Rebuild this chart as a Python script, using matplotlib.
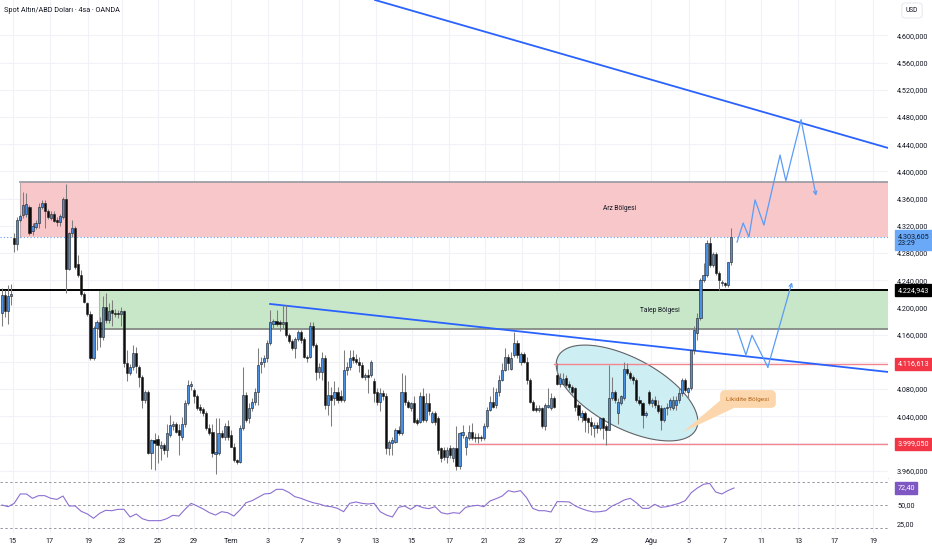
import matplotlib
matplotlib.use('Agg')

import matplotlib.pyplot as plt
import matplotlib.transforms as mtransforms
from matplotlib.patches import Polygon, Rectangle
import numpy as np

plt.rcParams['font.family'] = ['Roboto', 'DejaVu Sans']

# 4h candles, oldest first
opens = [4191, 4218, 4195, 4216, 4302, 4293, 4328, 4336, 4338, 4347,
         4312, 4318, 4324, 4348, 4354, 4341, 4332, 4338, 4329, 4326,
         4333, 4360, 4257, 4309, 4316, 4264, 4247, 4220, 4206, 4190,
         4125, 4169, 4179, 4157, 4201, 4181, 4196, 4192, 4192, 4190,
         4194, 4118, 4104, 4113, 4133, 4112, 4097, 4064, 4076, 3986,
         4005, 4007, 3993, 3998, 3990, 4012, 4025, 4029, 4019, 4010,
         4029, 4059, 4084, 4078, 4069, 4053, 4050, 4044, 4022, 4017,
         3985, 3986, 4015, 4010, 4025, 4012, 3995, 3975, 3973, 4022,
         4071, 4037, 4052, 4061, 4076, 4117, 4120, 4125, 4147, 4176,
         4180, 4178, 4175, 4179, 4159, 4150, 4140, 4154, 4164, 4154,
         4127, 4127, 4172, 4145, 4105, 4105, 4125, 4056, 4071, 4066,
         4076, 4069, 4064, 4108, 4113, 4127, 4124, 4120, 4115, 4098,
         4101, 4100, 4091, 4076, 4061, 4074, 4069, 3993, 4000, 4002,
         4020, 4015, 4076, 4061, 4052, 4059, 4034, 4032, 4069, 4034,
         4059, 4032, 4044, 4037, 3993, 3990, 3980, 3993, 3978, 3993,
         3966, 4012, 3995, 4008, 4017, 4010, 4010, 4010, 4008, 4025,
         4049, 4061, 4056, 4076, 4093, 4108, 4127, 4110, 4130, 4147,
         4120, 4132, 4120, 4093, 4061, 4052, 4049, 4052, 4025, 4054,
         4052, 4066, 4101, 4088, 4088, 4096, 4088, 4083, 4081, 4056,
         4039, 4044, 4037, 4032, 4022, 4027, 4022, 4037, 4025, 4020,
         4066, 4076, 4044, 4059, 4066, 4110, 4103, 4098, 4093, 4064,
         4059, 4042, 4076, 4059, 4064, 4056, 4052, 4034, 4052, 4054,
         4052, 4056, 4064, 4074, 4093, 4076, 4081, 4137, 4162, 4184,
         4240, 4248, 4294, 4262, 4279, 4250, 4236, 4236, 4233, 4266]
highs = [4228, 4226, 4233, 4234, 4309, 4333, 4338, 4370, 4368, 4350,
         4324, 4328, 4353, 4358, 4358, 4345, 4342, 4342, 4333, 4338,
         4362, 4382, 4311, 4328, 4319, 4277, 4255, 4223, 4208, 4194,
         4172, 4181, 4186, 4216, 4221, 4206, 4211, 4198, 4196, 4201,
         4196, 4137, 4116, 4145, 4142, 4115, 4101, 4079, 4079, 4007,
         4015, 4012, 4003, 4001, 4029, 4042, 4033, 4032, 4029, 4039,
         4064, 4093, 4092, 4081, 4073, 4058, 4054, 4047, 4028, 4029,
         4037, 4037, 4020, 4030, 4035, 4020, 4000, 3977, 4027, 4113,
         4076, 4059, 4066, 4081, 4140, 4127, 4130, 4152, 4196, 4183,
         4196, 4182, 4203, 4203, 4162, 4153, 4157, 4166, 4167, 4157,
         4130, 4179, 4179, 4147, 4118, 4135, 4130, 4091, 4083, 4091,
         4083, 4078, 4137, 4120, 4137, 4137, 4132, 4127, 4120, 4103,
         4110, 4122, 4096, 4081, 4081, 4078, 4074, 4005, 4010, 4022,
         4025, 4103, 4100, 4064, 4061, 4069, 4037, 4076, 4081, 4074,
         4074, 4047, 4047, 4040, 3995, 3995, 3995, 3998, 3995, 4025,
         4017, 4027, 4012, 4027, 4030, 4015, 4015, 4012, 4030, 4054,
         4069, 4083, 4081, 4101, 4118, 4140, 4132, 4135, 4164, 4152,
         4135, 4135, 4127, 4096, 4064, 4056, 4056, 4054, 4059, 4081,
         4074, 4069, 4118, 4103, 4103, 4101, 4091, 4086, 4083, 4059,
         4049, 4047, 4039, 4039, 4032, 4032, 4039, 4039, 4029, 4115,
         4098, 4078, 4066, 4071, 4120, 4118, 4106, 4101, 4096, 4069,
         4061, 4047, 4078, 4066, 4069, 4064, 4056, 4054, 4059, 4066,
         4069, 4069, 4081, 4096, 4096, 4083, 4137, 4172, 4191, 4243,
         4265, 4299, 4304, 4282, 4282, 4253, 4240, 4238, 4267, 4316]
lows = [4172, 4186, 4176, 4203, 4282, 4284, 4325, 4331, 4333, 4306,
        4306, 4315, 4316, 4344, 4316, 4330, 4328, 4325, 4320, 4320,
        4330, 4221, 4255, 4304, 4257, 4245, 4216, 4206, 4188, 4122,
        4122, 4137, 4142, 4152, 4177, 4177, 4172, 4186, 4185, 4172,
        4113, 4091, 4100, 4108, 4104, 4083, 4052, 4059, 3985, 3963,
        3961, 3971, 3975, 3985, 3980, 4010, 4020, 4015, 3983, 4005,
        4024, 4057, 4078, 4059, 4049, 4045, 4040, 4020, 4012, 3980,
        3955, 3983, 4008, 4005, 4005, 3995, 3973, 3970, 3971, 4020,
        4032, 4030, 4047, 4056, 4056, 4103, 4113, 4120, 4145, 4170,
        4172, 4165, 4170, 4157, 4148, 4138, 4125, 4150, 4147, 4125,
        4120, 4125, 4142, 4093, 4096, 4093, 4050, 4042, 4025, 4056,
        4059, 4061, 4061, 4100, 4108, 4118, 4116, 4105, 4096, 4093,
        4074, 4098, 4061, 4056, 4047, 4064, 3985, 3983, 3983, 4000,
        4012, 4012, 4056, 4052, 4047, 4030, 4027, 4030, 4032, 4032,
        4042, 4030, 4027, 3985, 3973, 3975, 3971, 3978, 3973, 3961,
        3963, 4008, 3983, 4005, 4005, 4002, 4000, 4003, 4005, 4022,
        4047, 4052, 4052, 4069, 4091, 4106, 4108, 4108, 4127, 4125,
        4115, 4118, 4088, 4059, 4047, 4046, 4046, 4022, 4020, 4052,
        4049, 4052, 4086, 4083, 4086, 4083, 4078, 4072, 4047, 4034,
        4032, 4017, 4015, 4012, 4010, 4015, 4020, 4007, 3998, 4020,
        4064, 4059, 4029, 4056, 4064, 4101, 4093, 4088, 4061, 4056,
        4022, 4039, 4056, 4054, 4052, 4044, 4020, 4032, 4042, 4049,
        4049, 4049, 4059, 4069, 4076, 4066, 4078, 4132, 4152, 4181,
        4238, 4245, 4260, 4260, 4248, 4226, 4232, 4230, 4230, 4262]
closes = [4218, 4195, 4216, 4219, 4293, 4328, 4334, 4351, 4352, 4309,
          4319, 4324, 4348, 4354, 4341, 4333, 4337, 4327, 4325, 4334,
          4360, 4257, 4309, 4316, 4260, 4248, 4220, 4208, 4190, 4125,
          4169, 4179, 4157, 4201, 4181, 4194, 4191, 4190, 4190, 4194,
          4118, 4104, 4113, 4133, 4114, 4097, 4064, 4076, 3986, 4005,
          4000, 3998, 3998, 3990, 4015, 4027, 4029, 4017, 4012, 4029,
          4059, 4086, 4088, 4069, 4052, 4049, 4044, 4022, 4015, 3986,
          3988, 4015, 4010, 4025, 4010, 3995, 3975, 3973, 4022, 4071,
          4035, 4052, 4061, 4076, 4115, 4120, 4125, 4147, 4179, 4180,
          4176, 4175, 4179, 4159, 4150, 4140, 4154, 4164, 4152, 4127,
          4125, 4172, 4145, 4105, 4113, 4125, 4056, 4071, 4064, 4076,
          4064, 4064, 4108, 4113, 4125, 4123, 4120, 4115, 4098, 4101,
          4098, 4120, 4074, 4061, 4074, 4069, 3993, 4002, 4005, 4020,
          4015, 4076, 4061, 4054, 4059, 4032, 4030, 4069, 4034, 4059,
          4047, 4044, 4032, 3990, 3978, 3980, 3990, 3983, 3993, 3966,
          4015, 4017, 4010, 4017, 4008, 4008, 4008, 4008, 4025, 4049,
          4061, 4054, 4076, 4093, 4108, 4127, 4118, 4125, 4147, 4130,
          4132, 4120, 4093, 4061, 4049, 4049, 4052, 4025, 4056, 4056,
          4066, 4054, 4088, 4096, 4094, 4086, 4083, 4076, 4054, 4042,
          4044, 4034, 4032, 4025, 4027, 4022, 4037, 4022, 4020, 4066,
          4076, 4064, 4061, 4069, 4110, 4103, 4096, 4093, 4064, 4059,
          4042, 4044, 4059, 4064, 4056, 4047, 4034, 4052, 4054, 4064,
          4064, 4064, 4074, 4093, 4078, 4081, 4137, 4167, 4184, 4240,
          4248, 4294, 4262, 4279, 4250, 4240, 4236, 4233, 4266, 4303.605]

# RSI(14), one reading every 2 bars
rsi = [50.0, 47.8, 52.2, 64.5, 64.5, 58.8, 62.3, 62.3, 58.8, 57.4,
       61.8, 48.7, 48.7, 41.6, 38.2, 32.5, 39.0, 43.0, 42.5, 44.3,
       44.3, 34.2, 38.2, 32.0, 29.4, 29.4, 29.4, 32.0, 36.4, 35.5,
       44.3, 52.2, 48.7, 44.7, 39.9, 36.8, 41.2, 39.9, 35.5, 43.4,
       53.0, 55.7, 60.1, 64.5, 65.3, 70.6, 70.6, 66.7, 61.0, 58.8,
       55.7, 53.0, 51.3, 48.7, 47.8, 45.6, 41.2, 52.2, 54.0, 52.2,
       51.3, 52.2, 41.2, 36.8, 34.2, 46.9, 48.7, 44.3, 49.6, 46.5,
       45.2, 47.8, 39.9, 38.2, 39.9, 39.0, 46.9, 48.7, 49.6, 47.8,
       55.3, 58.3, 61.8, 68.9, 67.1, 68.9, 59.6, 45.6, 42.5, 42.5,
       40.8, 54.4, 54.4, 54.0, 48.7, 45.2, 42.5, 40.8, 41.2, 42.5,
       48.7, 52.2, 56.6, 58.8, 53.0, 45.6, 45.6, 50.9, 46.9, 47.8,
       50.0, 52.2, 55.7, 66.2, 72.4, 77.2, 78.5, 67.1, 64.5, 68.9, 72.4]
rsi_last = 72.40

# horizontal levels drawn on the chart
arz_zone = (4303.605, 4385.0)
talep_zone = (4168.0, 4224.943)
black_level = 4224.943
red_levels = [4116.613, 3999.050]
red_starts = [181, 153]
last_price = 4303.605
bar_time = '23:29'

# trend lines (bar index, price)
upper_trend_x = [122.3, 290.5]
upper_trend_y = [4652.0, 4434.4]
lower_trend_x = [87.9, 290.5]
lower_trend_y = [4205.0, 4105.0]

# projected path sketches
proj_up_x = [241.0, 243.0, 244.9, 246.9, 249.8, 255.1, 257.0, 262.0, 266.9]
proj_up_y = [4296, 4324, 4303.5, 4358, 4321, 4424, 4386, 4475.5, 4364]
proj_dn_x = [241.0, 243.9, 245.9, 251.1, 259.0]
proj_dn_y = [4168, 4130, 4159, 4112, 4237]

tick_pos = [3.6, 15.7, 28.2, 39.3, 51.1, 63.0, 75.2, 87.2, 98.4, 110.5, 122.6,
            134.4, 146.6, 158.4, 170.5, 182.6, 194.4, 212.8, 225.2, 237.0,
            248.9, 261.0, 273.1, 285.6]
tick_labels = ['15', '17', '19', '23', '25', '29', 'Tem', '3', '7', '9', '13',
               '15', '17', '21', '23', '27', '29', 'Ağu', '5', '7', '11', '13',
               '17', '19']
price_ticks = list(range(3960, 4601, 40))


def tr(v, nd):
    s = '{:,.{}f}'.format(v, nd)
    return s.replace(',', 'X').replace('.', ',').replace('X', '.')


# pixel helpers for hand-drawn shapes
def px_x(px):
    return (px - 2) / 3.05


def px_y(py):
    return 4652 - 1.4706 * py


TXT = '#131722'
GRID = '#f0f2f7'

fig = plt.figure(figsize=(9.32, 5.5), dpi=100)
ax = fig.add_axes([0, 72 / 550, 888 / 932, 478 / 550])
axr = fig.add_axes([0, 17 / 550, 888 / 932, 55 / 550], sharex=ax)

xmin, xmax = px_x(0), px_x(888)
ax.set_xlim(xmin, xmax)
ax.set_ylim(px_y(478), px_y(0))

for t in tick_pos:
    ax.axvline(t, color=GRID, lw=0.8, zorder=0)
    axr.axvline(t, color=GRID, lw=0.8, zorder=0)
for p in price_ticks:
    ax.axhline(p, color=GRID, lw=0.8, zorder=0)

# zones
ax.add_patch(Rectangle((px_x(20), arz_zone[0]), xmax - px_x(20), arz_zone[1] - arz_zone[0],
                       fc='#f8c7ca', ec='none', zorder=1))
ax.plot([px_x(20), xmax], [arz_zone[1]] * 2, color='#9e9ea6', lw=1.3, zorder=1.5)
ax.plot([px_x(20), px_x(20)], arz_zone, color='#b9a9ad', lw=0.8, zorder=1.5)
ax.add_patch(Rectangle((px_x(99), talep_zone[0]), xmax - px_x(99), talep_zone[1] - talep_zone[0],
                       fc='#c8e6c8', ec='none', zorder=1))
ax.plot([px_x(99), xmax], [talep_zone[0]] * 2, color='#858a85', lw=1.3, zorder=1.5)
ax.plot([px_x(99), px_x(99)], talep_zone, color='#a8c0a8', lw=0.8, zorder=1.5)
ax.text(px_x(620), px_y(208), 'Arz Bölgesi', fontsize=4.8, color=TXT, ha='center', va='center', zorder=2)
ax.text(px_x(660), px_y(310), 'Talep Bölgesi', fontsize=4.8, color=TXT, ha='center', va='center', zorder=2)

# liquidity ellipse
t = np.linspace(0, 2 * np.pi, 200)
th = np.radians(28)
ex = 627 + 78 * np.cos(t) * np.cos(th) - 35 * np.sin(t) * np.sin(th)
ey = 393 + 78 * np.cos(t) * np.sin(th) + 35 * np.sin(t) * np.cos(th)
ax.add_patch(Polygon(np.column_stack([px_x(ex), px_y(ey)]), closed=True,
                     fc='#cdeef3', ec='#5f6266', lw=0.8, zorder=1.8))

# levels
ax.axhline(black_level, color='#000000', lw=1.4, zorder=2.5)
for lvl, st in zip(red_levels, red_starts):
    ax.plot([st, xmax], [lvl, lvl], color='#f2858e', lw=1.0, zorder=2.5)
ax.axhline(last_price, color='#5b9cf6', lw=0.8, ls=(0, (1, 2)), zorder=2.5)

# trend lines
ax.plot(upper_trend_x, upper_trend_y, color='#2962ff', lw=1.3, zorder=3)
ax.plot(lower_trend_x, lower_trend_y, color='#2962ff', lw=1.3, zorder=3)

# candles
o = np.array(opens, dtype=float)
c = np.array(closes, dtype=float)
h = np.array(highs, dtype=float)
lo = np.array(lows, dtype=float)
x = np.arange(len(c))
up = c >= o
ax.vlines(x, lo, h, color='#7d7d7d', lw=0.75, zorder=4)
body = np.maximum(np.abs(c - o), 0.8)
ax.bar(x, body, bottom=np.minimum(o, c), width=0.7,
       color=np.where(up, '#4a90e2', '#0d0d0d'), edgecolor='#1c1c1c', lw=0.4, zorder=5)

# projected paths
ax.plot(proj_up_x[:-1], proj_up_y[:-1], color='#5b9cf6', lw=0.9, zorder=6)
ax.annotate('', xy=(proj_up_x[-1], proj_up_y[-1]), xytext=(proj_up_x[-2], proj_up_y[-2]),
            arrowprops=dict(arrowstyle='->', color='#5b9cf6', lw=0.9, shrinkA=0, shrinkB=0,
                            mutation_scale=6), zorder=6)
ax.plot(proj_dn_x[:-1], proj_dn_y[:-1], color='#5b9cf6', lw=0.9, zorder=6)
ax.annotate('', xy=(proj_dn_x[-1], proj_dn_y[-1]), xytext=(proj_dn_x[-2], proj_dn_y[-2]),
            arrowprops=dict(arrowstyle='->', color='#5b9cf6', lw=0.9, shrinkA=0, shrinkB=0,
                            mutation_scale=6), zorder=6)

# callout
ax.add_patch(Polygon([[px_x(722), px_y(399)], [px_x(734), px_y(408)], [px_x(683), px_y(432)]],
                     closed=True, fc='#fcd7ad', ec='none', zorder=6))
ax.text(px_x(748), px_y(399), 'Likidite Bölgesi', fontsize=4.6, color='#b4661c',
        ha='center', va='center', zorder=7,
        bbox=dict(boxstyle='round,pad=1.0,rounding_size=0.8', fc='#fcd7ad', ec='none'))

# title
fig.text(4 / 932, 1 - 10 / 550, 'Spot Altın/ABD Doları · 4sa · OANDA', fontsize=5.2,
         color=TXT, ha='left', va='center')

# price axis
ax.yaxis.tick_right()
ax.set_yticks(price_ticks)
ax.set_yticklabels([tr(p, 3) for p in price_ticks])
ax.tick_params(axis='y', length=0, pad=6.5, labelsize=5.2, labelcolor=TXT)
ax.tick_params(axis='x', length=0, labelbottom=False)
for s in ax.spines.values():
    s.set_visible(False)
ax.spines['bottom'].set_visible(True)
ax.spines['bottom'].set_color('#e0e3eb')
ax.spines['bottom'].set_linewidth(0.8)

fig.text(912 / 932, 1 - 10.5 / 550, 'USD', fontsize=4.8, color=TXT, ha='center', va='center',
         bbox=dict(boxstyle='round,pad=0.6,rounding_size=0.5', fc='white', ec='#e0e3eb', lw=0.6))


def badge(axis, yval, txt, fc, tc):
    trans = mtransforms.blended_transform_factory(axis.transAxes, axis.transData)
    axis.text(1.0106, yval, txt, transform=trans, ha='left', va='center', fontsize=5.2,
              color=tc, linespacing=1.05, clip_on=False, zorder=20,
              bbox=dict(boxstyle='square,pad=0.35', fc=fc, ec=fc))


badge(ax, last_price - 4.5, tr(last_price, 3) + '\n' + bar_time, '#6aa9f7', '#0e1a2e')
badge(ax, black_level, tr(black_level, 3), '#000000', 'white')
for lvl in red_levels:
    badge(ax, lvl, tr(lvl, 3), '#f23645', 'white')

# RSI pane
axr.set_ylim(50 - 28 / 0.76, 50 + 27 / 0.76)
axr.plot(np.arange(len(rsi)) * 2, rsi, color='#8c6fd1', lw=0.8, zorder=3)
for b in (80, 50, 20):
    axr.axhline(b, color='#9598a1', lw=0.7, ls=(0, (2.5, 2.5)), zorder=2)
axr.yaxis.tick_right()
axr.set_yticks([25, 50, 75])
axr.set_yticklabels([tr(v, 2) for v in (25, 50, 75)])
axr.tick_params(axis='y', length=0, pad=6.5, labelsize=5.2, labelcolor=TXT)
axr.set_xticks(tick_pos)
axr.set_xticklabels(tick_labels)
axr.tick_params(axis='x', length=0, pad=3.5, labelsize=5.2, labelcolor=TXT)
for s in axr.spines.values():
    s.set_visible(False)
badge(axr, rsi_last, tr(rsi_last, 2), '#7e57c2', 'white')

fig.savefig('out.png', dpi=100, facecolor='white')
